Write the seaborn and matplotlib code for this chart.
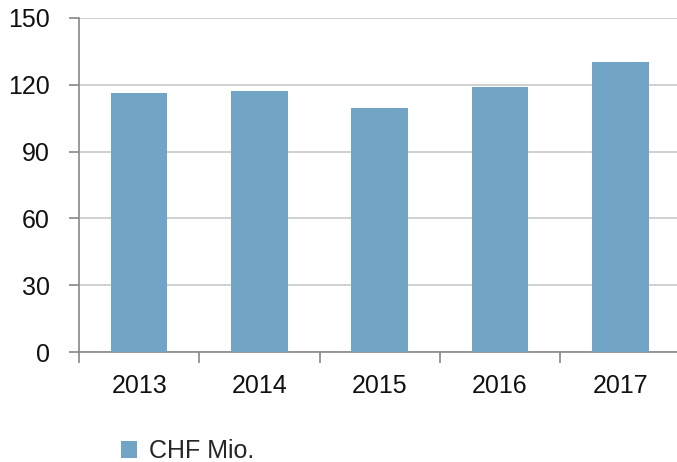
import matplotlib
matplotlib.use("Agg")
import matplotlib.pyplot as plt
from matplotlib.patches import Patch
import seaborn as sns
import pandas as pd

years = ["2013", "2014", "2015", "2016", "2017"]
values = [116.3, 117.3, 109.6, 119.1, 130.3]
series_name = "CHF Mio."
y_ticks = [0, 30, 60, 90, 120, 150]

sns.set_theme(style="white")
plt.rcParams["font.family"] = ["Liberation Sans", "DejaVu Sans"]

bar_color = "#72a4c5"
fs = 18
df = pd.DataFrame({"year": years, "value": values})

fig = plt.figure(figsize=(6.77, 4.62), dpi=100)
ax = fig.add_axes([79 / 677, 1 - 352 / 462, 601.5 / 677, (352 - 18) / 462])

sns.barplot(data=df, x="year", y="value", color=bar_color, width=0.47,
            saturation=1, ax=ax, zorder=3, edgecolor="none", linewidth=0)

ax.set_xlim(-0.5, len(years) - 0.5)
ax.set_ylim(0, 150)
ax.set_yticks(y_ticks)
ax.set_yticklabels([str(t) for t in y_ticks], fontsize=fs, color="#111111")
ax.yaxis.grid(True, color="#c8c8c8", linewidth=1.2, zorder=0)
ax.set_axisbelow(True)

# category boundary ticks (major) and labels at centers (minor)
ax.set_xticks([i - 0.5 for i in range(len(years) + 1)])
ax.set_xticklabels([])
ax.set_xticks(range(len(years)), minor=True)
ax.set_xticklabels(years, minor=True, fontsize=fs, color="#111111")
ax.tick_params(axis="x", which="major", direction="out", length=8, width=1.2,
               color="#888888", bottom=True)
ax.tick_params(axis="x", which="minor", length=0, pad=16)
ax.tick_params(axis="y", direction="out", length=7, width=1.2, color="#888888",
               left=True, pad=14)

ax.set_xlabel("")
ax.set_ylabel("")
for s in ["top", "right"]:
    ax.spines[s].set_visible(False)
for s in ["left", "bottom"]:
    ax.spines[s].set_color("#888888")
    ax.spines[s].set_linewidth(1.2)

handle = Patch(facecolor=bar_color, edgecolor="none", label=series_name)
fig.legend(handles=[handle], loc="center left", bbox_to_anchor=(108 / 677, 1 - 451 / 462),
           frameon=False, fontsize=fs, handlelength=0.65, handleheight=0.65,
           handletextpad=0.5, borderpad=0)

fig.savefig("out.png", dpi=100)
